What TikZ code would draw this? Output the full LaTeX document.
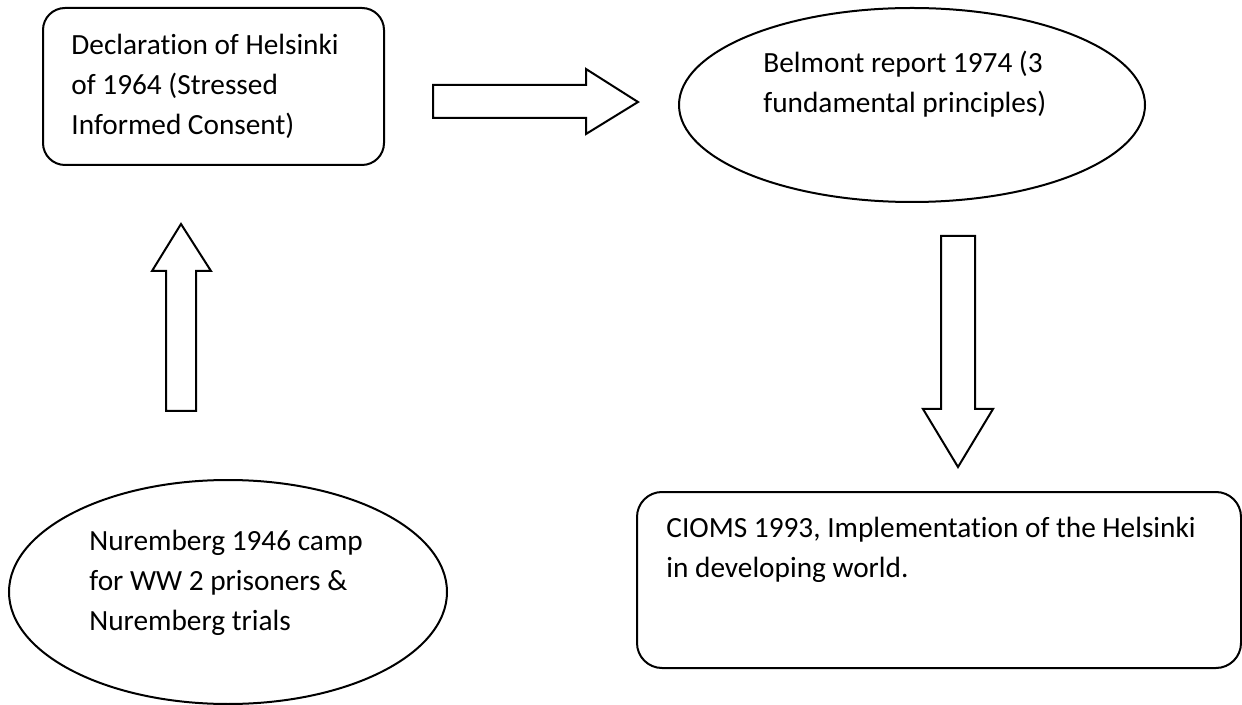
\documentclass[tikz,border=0pt]{standalone}
\usepackage{fontspec}
\setmainfont{Carlito}[Ligatures=NoCommon]
\usetikzlibrary{positioning,shapes.geometric}

\begin{document}
\begin{tikzpicture}[
  x=0.5pt,y=-0.5pt,
  every node/.style={font=\fontsize{14.65}{20}\selectfont},
  R/.style={draw,line width=1pt,rounded corners=11pt,inner sep=0pt},
  E/.style={draw,line width=1pt,ellipse,inner sep=0pt},
  T/.style={align=left,inner sep=0pt,anchor=base west},
  blk/.style={draw,line width=1pt,line join=miter,fill=white}
]
\useasboundingbox (0,0) rectangle (1242,705);

% shapes
\node[R,minimum width=170.5pt,minimum height=78.5pt](Dh) at (213.5,86.5){};
\node[E,minimum width=233pt,minimum height=97pt](Bm) at (912,105){};
\node[E,minimum width=219pt,minimum height=112pt](Nu) at (228,592){};
\node[R,minimum width=302pt,minimum height=88pt,rounded corners=12.5pt](Ci)
     at (939,580){};

% texts (anchored at last line)
\node[T](tDh) at (71,135){Declaration of Helsinki\\of 1964 (Stressed\\Informed Consent)};
\node[T](tBm) at (763,113){Belmont report 1974 (3\\fundamental principles)};
\node[T](tNu) at (89,630){Nuremberg 1946 camp\\for WW 2 prisoners \&\\Nuremberg trials};
\node[T](tCi) at (666,577){CIOMS 1993, Implementation of the Helsinki\\in developing world.};

% block arrows
\draw[blk] (181,224)--(211,271)--(196,271)--(196,411)--(166,411)--(166,271)--(152,271)--cycle;
\draw[blk] (638,102)--(586,134)--(586,118)--(433,118)--(433,85)--(586,85)--(586,69)--cycle;
\draw[blk] (958,467)--(923,409)--(941,409)--(941,236)--(975,236)--(975,409)--(993,409)--cycle;
\end{tikzpicture}
\end{document}
